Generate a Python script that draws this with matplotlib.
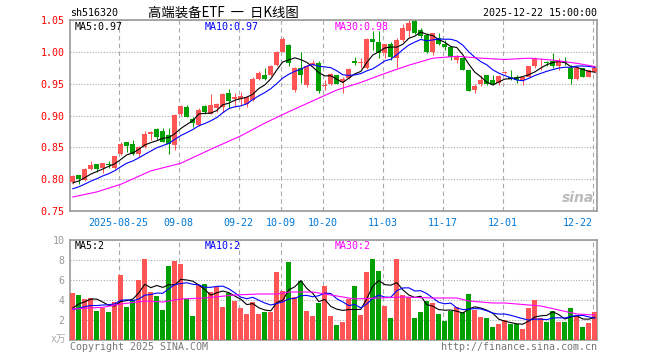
import matplotlib.pyplot as plt
import numpy as np
import pandas as pd

plt.rcParams['font.family'] = ['DejaVu Sans Mono', 'Noto Sans CJK SC']

# date ticks (bar index -> label)
tick_idx = [8, 18, 28, 35, 42, 52, 62, 72, 87]
tick_labels = ['2025-08-25', '09-08', '09-22', '10-09', '10-20', '11-03', '11-17', '12-01', '12-22']

# daily candles, 2025-08-13 .. 2025-12-22
opens = [0.795, 0.806, 0.799, 0.816, 0.824, 0.818, 0.824, 0.817, 0.839, 0.858,
         0.855, 0.840, 0.850, 0.871, 0.879, 0.876, 0.869, 0.854, 0.902, 0.914,
         0.895, 0.885, 0.915, 0.903, 0.912, 0.914, 0.936, 0.926, 0.926, 0.918,
         0.925, 0.957, 0.963, 0.964, 0.979, 1.000, 1.011, 0.940, 0.974, 0.948,
         0.979, 0.983, 0.946, 0.950, 0.963, 0.952, 0.959, 0.985, 0.983, 0.974,
         1.020, 1.016, 0.998, 1.012, 0.990, 1.019, 1.032, 1.049, 1.034, 1.026,
         1.000, 1.021, 1.013, 1.008, 0.987, 0.990, 0.971, 0.940, 0.949, 0.963,
         0.956, 0.951, 0.967, 0.961, 0.961, 0.956, 0.961, 0.977, 0.988, 0.984,
         0.986, 0.977, 0.986, 0.975, 0.958, 0.974, 0.961, 0.969]
highs = [0.807, 0.807, 0.818, 0.828, 0.824, 0.826, 0.828, 0.837, 0.859, 0.859,
         0.861, 0.852, 0.876, 0.875, 0.881, 0.881, 0.881, 0.902, 0.917, 0.916,
         0.898, 0.911, 0.917, 0.934, 0.920, 0.936, 0.941, 0.936, 0.937, 0.931,
         0.960, 0.970, 0.974, 0.980, 1.001, 1.024, 1.013, 0.976, 1.000, 0.979,
         0.987, 0.985, 0.955, 0.967, 0.964, 0.961, 0.974, 0.992, 0.990, 1.021,
         1.032, 1.032, 1.013, 1.015, 1.021, 1.044, 1.050, 1.050, 1.037, 1.029,
         1.030, 1.029, 1.018, 1.008, 0.995, 0.992, 0.972, 0.949, 0.964, 0.964,
         0.964, 0.964, 0.970, 0.971, 0.964, 0.961, 0.977, 0.992, 0.990, 0.985,
         0.998, 0.990, 0.992, 0.979, 0.977, 0.974, 0.971, 0.978]
lows = [0.793, 0.793, 0.797, 0.815, 0.812, 0.810, 0.817, 0.816, 0.838, 0.842,
        0.838, 0.835, 0.849, 0.861, 0.861, 0.859, 0.840, 0.846, 0.900, 0.898,
        0.882, 0.884, 0.903, 0.902, 0.906, 0.906, 0.911, 0.914, 0.915, 0.913,
        0.923, 0.955, 0.956, 0.962, 0.978, 0.999, 0.977, 0.937, 0.951, 0.945,
        0.977, 0.936, 0.940, 0.948, 0.949, 0.935, 0.958, 0.979, 0.974, 0.973,
        1.003, 0.990, 0.990, 0.987, 0.974, 1.016, 1.024, 1.028, 1.021, 0.998,
        0.995, 1.011, 1.003, 0.987, 0.982, 0.972, 0.939, 0.936, 0.947, 0.948,
        0.948, 0.948, 0.965, 0.956, 0.951, 0.948, 0.960, 0.974, 0.971, 0.977,
        0.974, 0.971, 0.980, 0.949, 0.956, 0.960, 0.960, 0.967]
closes = [0.805, 0.801, 0.816, 0.822, 0.816, 0.825, 0.822, 0.836, 0.856, 0.852,
          0.840, 0.850, 0.871, 0.874, 0.867, 0.859, 0.856, 0.901, 0.915, 0.898,
          0.889, 0.909, 0.906, 0.917, 0.918, 0.934, 0.922, 0.929, 0.930, 0.929,
          0.957, 0.967, 0.957, 0.978, 0.999, 1.020, 0.982, 0.974, 0.964, 0.977,
          0.983, 0.939, 0.948, 0.965, 0.950, 0.957, 0.973, 0.982, 0.984, 1.020,
          1.016, 0.998, 1.012, 0.992, 1.019, 1.038, 1.045, 1.029, 1.025, 1.000,
          1.029, 1.013, 1.008, 0.992, 0.992, 0.972, 0.939, 0.946, 0.955, 0.950,
          0.950, 0.962, 0.969, 0.958, 0.956, 0.961, 0.977, 0.990, 0.989, 0.982,
          0.977, 0.986, 0.982, 0.958, 0.975, 0.961, 0.971, 0.975]
volumes = [4.73, 4.5, 4.1, 4.23, 2.9, 3.23, 2.83, 3.83, 6.5, 3.3,
           3.97, 6.0, 8.1, 4.8, 4.4, 3.0, 7.4, 7.9, 7.6, 4.1,
           2.4, 5.5, 5.6, 4.8, 5.3, 3.3, 4.7, 3.9, 3.2, 2.6,
           3.8, 2.6, 2.8, 2.8, 6.8, 4.9, 7.8, 4.3, 5.9, 2.9,
           2.4, 3.7, 5.4, 2.4, 1.5, 1.8, 4.13, 5.4, 2.5, 6.8,
           8.1, 6.9, 3.4, 2.2, 8.1, 4.5, 4.3, 2.2, 2.8, 3.9,
           3.7, 2.6, 1.9, 2.9, 3.3, 2.8, 4.6, 3.0, 2.3, 2.2,
           1.3, 1.6, 2.0, 1.6, 1.6, 1.1, 3.2, 4.0, 2.2, 1.8,
           2.9, 1.8, 1.8, 3.2, 2.4, 1.3, 1.7, 2.8]

# sessions before the window, only needed to start MA5 / MA10
prev_closes = [0.770, 0.773, 0.776, 0.778, 0.781, 0.786, 0.790, 0.794, 0.796]
prev_volumes = [3.2, 2.6, 3.1, 2.9, 2.7, 2.5, 3.0, 2.9, 2.9]

# MA30
ma30_idx = [0, 4, 8, 13, 18, 23, 28, 32, 36, 40, 44, 48, 52, 56, 60, 64, 68, 72, 76, 80, 84, 87]
ma30_val = [0.772, 0.780, 0.792, 0.813, 0.825, 0.847, 0.868, 0.888, 0.906, 0.923, 0.940,
            0.952, 0.966, 0.979, 0.990, 0.993, 0.990, 0.988, 0.990, 0.987, 0.982, 0.977]
vol_ma30_idx = [0, 5, 8, 12, 15, 18, 22, 27, 31, 34, 36, 40, 43, 45, 47, 51, 55, 60,
                64, 66, 70, 72, 76, 78, 81, 84, 87]
vol_ma30_val = [3.1, 3.27, 3.6, 3.9, 3.8, 4.1, 4.2, 4.5, 4.6, 4.6, 4.8, 4.8, 4.5, 4.3, 4.1,
                4.2, 4.3, 4.2, 4.2, 3.9, 3.7, 3.7, 3.5, 3.4, 3.0, 2.6, 2.5]

RED = '#ff5555'
GREEN = '#00a000'
GRID = '#aaaaaa'


def px(x, y):
    # pixel position on the 660x360 canvas -> figure fraction
    return x / 660, 1 - y / 360


fig = plt.figure(figsize=(6.6, 3.6), dpi=100)
ax = fig.add_axes([70 / 660, 1 - 211 / 360, 527 / 660, 191 / 360])
axv = fig.add_axes([70 / 660, 1 - 340 / 360, 527 / 660, 100 / 360])

x = np.arange(len(closes))
o = np.array(opens)
c = np.array(closes)
colors = np.where(c >= o, RED, GREEN)

# candles
ax.vlines(x, lows, highs, colors=colors, linewidth=0.75, zorder=3)
body_h = np.maximum(np.abs(c - o), 0.0012)
ax.bar(x, body_h, bottom=np.minimum(o, c), width=0.8, color=colors, linewidth=0, zorder=3)

# moving averages
c_all = pd.Series(prev_closes + closes)
ma5 = c_all.rolling(5).mean().iloc[len(prev_closes):].values
ma10 = c_all.rolling(10).mean().iloc[len(prev_closes):].values
ax.plot(x, ma5, color='black', lw=0.8, zorder=4)
ax.plot(x, ma10, color='#0000ff', lw=0.8, zorder=4)
ax.plot(ma30_idx, ma30_val, color='#ff00ff', lw=0.8, zorder=4)

# volume
axv.bar(x, volumes, width=0.8, color=colors, linewidth=0, zorder=3)
v_all = pd.Series(prev_volumes + volumes)
vma5 = v_all.rolling(5).mean().iloc[len(prev_volumes):].values
vma10 = v_all.rolling(10).mean().iloc[len(prev_volumes):].values
axv.plot(x, vma5, color='black', lw=0.8, zorder=4)
axv.plot(x, vma10, color='#0000ff', lw=0.8, zorder=4)
axv.plot(vol_ma30_idx, vol_ma30_val, color='#ff00ff', lw=0.8, zorder=4)

grid_x = np.array(tick_idx) - 0.35
for a in (ax, axv):
    a.set_xlim(-0.47, 87.37)
    a.set_axisbelow(True)
    for s in a.spines.values():
        s.set_color('#999999')
        s.set_linewidth(1.2)
    a.set_xticks(grid_x)
    a.grid(axis='x', color=GRID, linestyle=(0, (4, 3)), linewidth=0.8)
    a.grid(axis='y', color=GRID, linestyle=(0, (1, 1.5)), linewidth=0.8)
    a.tick_params(length=0)

ax.set_ylim(0.75, 1.05)
ax.set_yticks(np.arange(0.75, 1.051, 0.05))
ax.set_yticklabels([f'{v:.2f}' for v in np.arange(0.75, 1.051, 0.05)])
ax.tick_params(axis='y', labelcolor='#ff0000', labelsize=7.2, pad=4)
ax.set_xticklabels(tick_labels)
ax.tick_params(axis='x', labelcolor='#0078d7', labelsize=7.2, pad=5)
ax.get_xticklabels()[-1].set_ha('right')

axv.set_ylim(0, 10)
axv.set_yticks([2, 4, 6, 8, 10])
axv.set_yticklabels(['2', '4', '6', '8', '10'])
axv.tick_params(axis='y', labelcolor='#999999', labelsize=7.2, pad=4)
axv.set_xticklabels([])

# header and legends
fig.text(*px(70, 13), 'sh516320', fontsize=7.2, va='center', ha='left')
fig.text(*px(223, 13), '高端装备ETF  一  日K线图', fontsize=9.6, va='center', ha='center',
         family=['Noto Sans CJK SC', 'DejaVu Sans'])
fig.text(*px(597, 13), '2025-12-22 15:00:00', fontsize=7.2, va='center', ha='right')
fig.text(*px(75, 27), 'MA5:0.97', fontsize=7.2, va='center', color='black')
fig.text(*px(205, 27), 'MA10:0.97', fontsize=7.2, va='center', color='#0000ff')
fig.text(*px(335, 27), 'MA30:0.98', fontsize=7.2, va='center', color='#ff00ff')
fig.text(*px(75, 246), 'MA5:2', fontsize=7.2, va='center', color='black')
fig.text(*px(205, 246), 'MA10:2', fontsize=7.2, va='center', color='#0000ff')
fig.text(*px(335, 246), 'MA30:2', fontsize=7.2, va='center', color='#ff00ff')
fig.text(*px(66, 339), 'x万', fontsize=7, va='center', ha='right', color='#aaaaaa')
fig.text(*px(70, 347), 'Copyright 2025 SINA.COM', fontsize=7.2, va='center', color='#777777')
fig.text(*px(597, 347), 'http://finance.sina.com.cn', fontsize=7.2, va='center', ha='right',
         color='#777777')
fig.text(*px(578, 198), 'sina', fontsize=10, va='center', ha='center', color='#bbbbbb',
         style='italic', weight='bold', family='DejaVu Sans')

plt.savefig('out.png', dpi=100)
